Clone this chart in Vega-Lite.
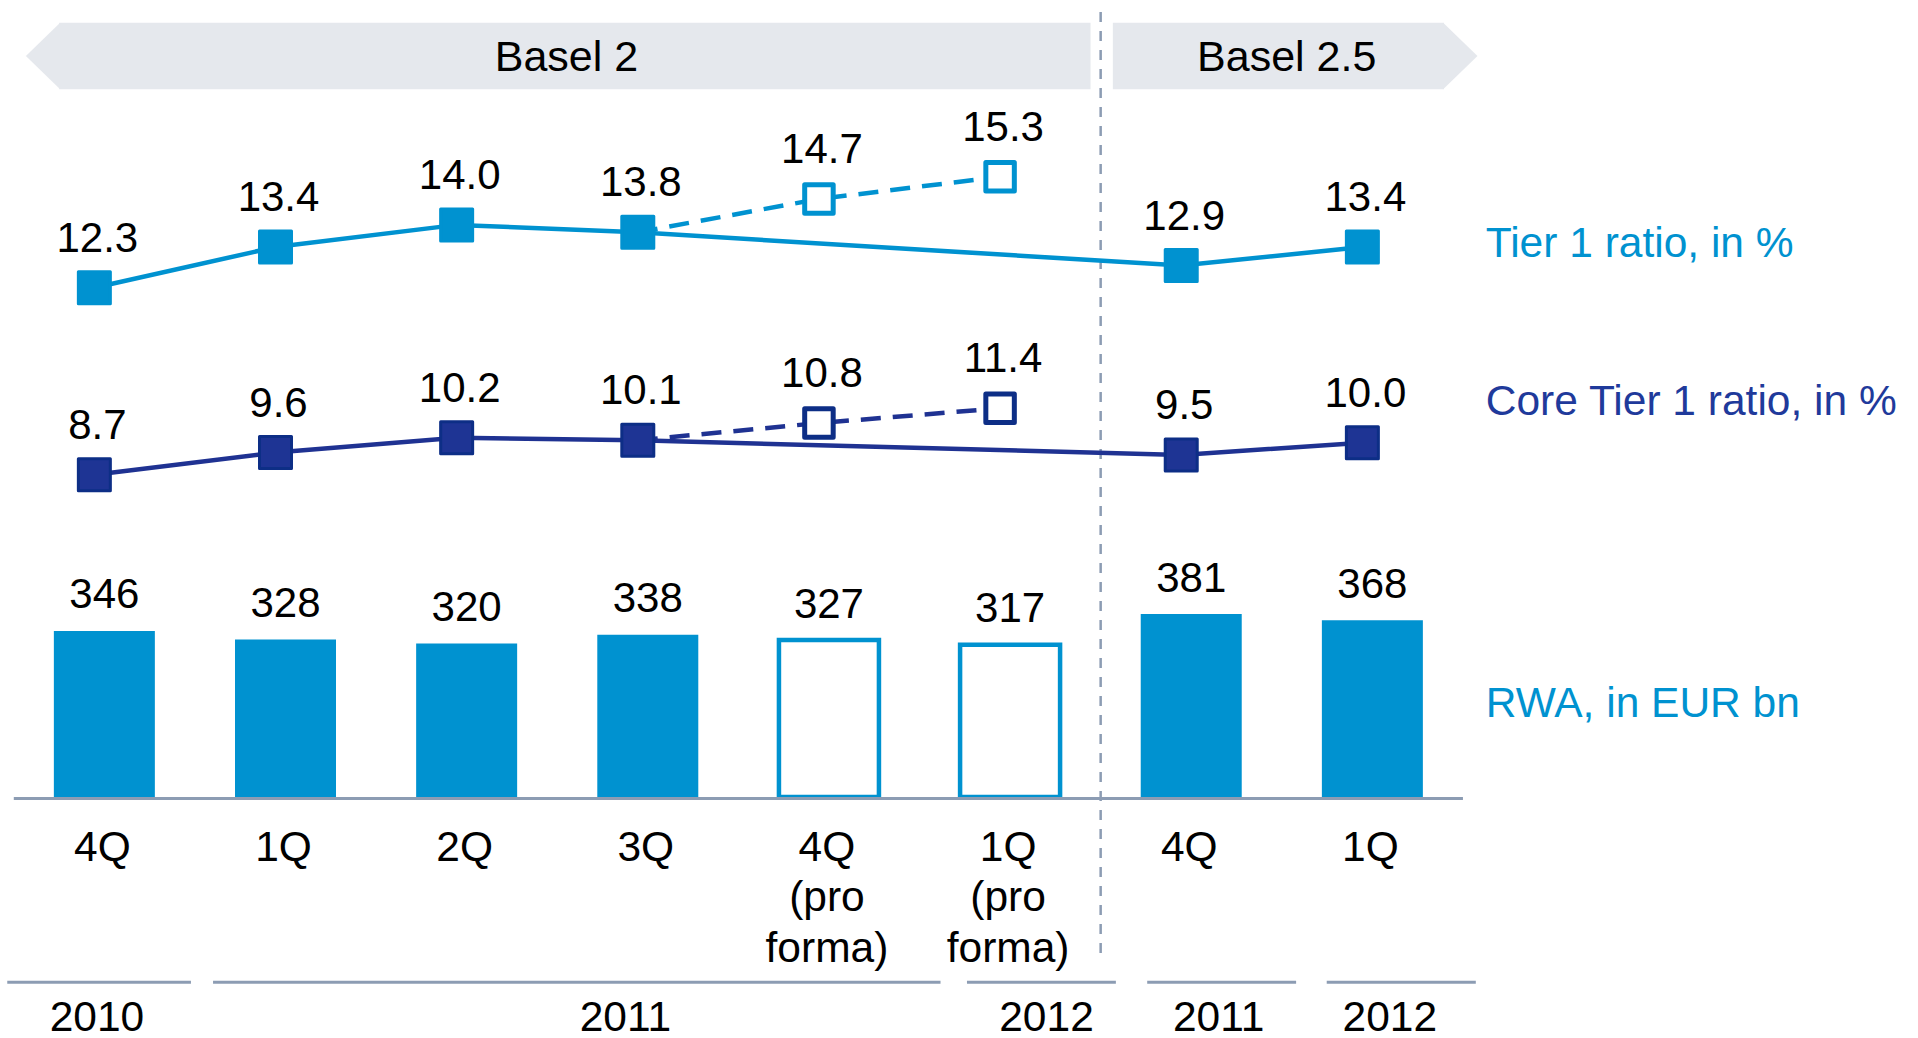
{
  "$schema": "https://vega.github.io/schema/vega-lite/v6.json",
  "width": 1918,
  "height": 1038,
  "autosize": {"type": "none"},
  "padding": 0,
  "background": "white",
  "config": {"view": {"stroke": null}, "text": {"font": "Liberation Sans", "color": "#000000"}},
  "datasets": {
    "bars": [
      {"idx": 0, "label": "4Q", "rwa": 346, "proforma": false},
      {"idx": 1, "label": "1Q", "rwa": 328, "proforma": false},
      {"idx": 2, "label": "2Q", "rwa": 320, "proforma": false},
      {"idx": 3, "label": "3Q", "rwa": 338, "proforma": false},
      {"idx": 4, "label": "4Q\n(pro\nforma)", "rwa": 327, "proforma": true},
      {"idx": 5, "label": "1Q\n(pro\nforma)", "rwa": 317, "proforma": true},
      {"idx": 6, "label": "4Q", "rwa": 381, "proforma": false},
      {"idx": 7, "label": "1Q", "rwa": 368, "proforma": false}
    ],
    "ratios": [
      {"metric": "Tier 1", "series": "reported", "idx": 0, "value": 12.3},
      {"metric": "Tier 1", "series": "reported", "idx": 1, "value": 13.4},
      {"metric": "Tier 1", "series": "reported", "idx": 2, "value": 14.0},
      {"metric": "Tier 1", "series": "reported", "idx": 3, "value": 13.8},
      {"metric": "Tier 1", "series": "reported", "idx": 6, "value": 12.9},
      {"metric": "Tier 1", "series": "reported", "idx": 7, "value": 13.4},
      {"metric": "Tier 1", "series": "pro forma", "idx": 3, "value": 13.8},
      {"metric": "Tier 1", "series": "pro forma", "idx": 4, "value": 14.7},
      {"metric": "Tier 1", "series": "pro forma", "idx": 5, "value": 15.3},
      {"metric": "Core Tier 1", "series": "reported", "idx": 0, "value": 8.7},
      {"metric": "Core Tier 1", "series": "reported", "idx": 1, "value": 9.6},
      {"metric": "Core Tier 1", "series": "reported", "idx": 2, "value": 10.2},
      {"metric": "Core Tier 1", "series": "reported", "idx": 3, "value": 10.1},
      {"metric": "Core Tier 1", "series": "reported", "idx": 6, "value": 9.5},
      {"metric": "Core Tier 1", "series": "reported", "idx": 7, "value": 10.0},
      {"metric": "Core Tier 1", "series": "pro forma", "idx": 3, "value": 10.1},
      {"metric": "Core Tier 1", "series": "pro forma", "idx": 4, "value": 10.8},
      {"metric": "Core Tier 1", "series": "pro forma", "idx": 5, "value": 11.4}
    ],
    "years": [
      {"year": "2010", "start": -0.536, "end": 0.478, "lab": -0.041},
      {"year": "2011", "start": 0.6, "end": 4.616, "lab": 2.876},
      {"year": "2012", "start": 4.762, "end": 5.584, "lab": 5.201},
      {"year": "2011", "start": 5.757, "end": 6.579, "lab": 6.151},
      {"year": "2012", "start": 6.748, "end": 7.571, "lab": 7.096}
    ],
    "banner": [
      {"name": "Basel 2", "x1": -0.2491, "x2": 5.4441, "tx": 2.551, "lo": 0, "hi": 1, "mid": 0.5},
      {"name": "Basel 2.5", "x1": 5.5673, "x2": 7.3956, "tx": 6.527, "lo": 0, "hi": 1, "mid": 0.5}
    ],
    "tips": [
      {"tip": "left", "x": -0.4331, "lo": 0.5, "hi": 0.5},
      {"tip": "left", "x": -0.2441, "lo": 0, "hi": 1},
      {"tip": "right", "x": 7.3906, "lo": 0, "hi": 1},
      {"tip": "right", "x": 7.5801, "lo": 0.5, "hi": 0.5}
    ],
    "divider": [{"x": 5.5, "top": 1.1907, "bottom": -12.968}]
  },
  "layer": [
    {
      "layer": [
        {
          "data": {"name": "banner"},
          "mark": {"type": "rect", "color": "#E5E8ED"},
          "encoding": {
            "x": {"field": "x1", "type": "quantitative", "scale": {"domain": [-0.5485, 9.9845], "nice": false, "zero": false}, "axis": null},
            "x2": {"field": "x2"},
            "y": {"field": "lo", "type": "quantitative", "scale": {"domain": [-14.245, 1.3408], "nice": false, "zero": false}, "axis": null},
            "y2": {"field": "hi"}
          }
        },
        {
          "data": {"name": "tips"},
          "mark": {"type": "area", "color": "#E5E8ED", "interpolate": "linear"},
          "encoding": {
            "x": {"field": "x", "type": "quantitative", "scale": {"domain": [-0.5485, 9.9845], "nice": false, "zero": false}, "axis": null},
            "y": {"field": "lo", "type": "quantitative", "scale": {"domain": [-14.245, 1.3408], "nice": false, "zero": false}, "axis": null},
            "y2": {"field": "hi"},
            "detail": {"field": "tip"}
          }
        },
        {
          "data": {"name": "banner"},
          "mark": {"type": "text", "fontSize": 43, "align": "center", "baseline": "alphabetic", "dy": 15, "color": "#000000"},
          "encoding": {
            "x": {"field": "tx", "type": "quantitative", "scale": {"domain": [-0.5485, 9.9845], "nice": false, "zero": false}, "axis": null},
            "y": {"field": "mid", "type": "quantitative", "scale": {"domain": [-14.245, 1.3408], "nice": false, "zero": false}, "axis": null},
            "text": {"field": "name"}
          }
        },
        {
          "data": {"name": "divider"},
          "mark": {"type": "rule", "color": "#8C9CB3", "strokeWidth": 2.5, "strokeDash": [10, 9]},
          "encoding": {
            "x": {"field": "x", "type": "quantitative", "scale": {"domain": [-0.5485, 9.9845], "nice": false, "zero": false}, "axis": null},
            "y": {"field": "bottom", "type": "quantitative", "scale": {"domain": [-14.245, 1.3408], "nice": false, "zero": false}, "axis": null},
            "y2": {"field": "top"}
          }
        }
      ]
    },
    {
      "layer": [
        {
          "data": {"name": "bars"},
          "transform": [{"filter": "!datum.proforma"}],
          "mark": {"type": "bar", "width": 101, "color": "#0092D0"},
          "encoding": {
            "x": {"field": "idx", "type": "quantitative", "scale": {"domain": [-0.5485, 9.9845], "nice": false, "zero": false}, "axis": null},
            "y": {"field": "rwa", "type": "quantitative", "scale": {"domain": [-502.08, 1660.42], "nice": false, "zero": false}, "axis": null},
            "y2": {"datum": 0}
          }
        },
        {
          "data": {"name": "bars"},
          "transform": [{"filter": "datum.proforma"}],
          "mark": {"type": "bar", "width": 100, "fill": "#ffffff", "stroke": "#0092D0", "strokeWidth": 4.5},
          "encoding": {
            "x": {"field": "idx", "type": "quantitative", "scale": {"domain": [-0.5485, 9.9845], "nice": false, "zero": false}, "axis": null},
            "y": {"field": "rwa", "type": "quantitative", "scale": {"domain": [-502.08, 1660.42], "nice": false, "zero": false}, "axis": null},
            "y2": {"datum": 0}
          }
        },
        {
          "data": {"name": "bars"},
          "mark": {"type": "text", "fontSize": 42, "align": "center", "baseline": "alphabetic", "dy": -22.5},
          "encoding": {
            "x": {"field": "idx", "type": "quantitative", "scale": {"domain": [-0.5485, 9.9845], "nice": false, "zero": false}, "axis": null},
            "y": {"field": "rwa", "type": "quantitative", "scale": {"domain": [-502.08, 1660.42], "nice": false, "zero": false}, "axis": null},
            "text": {"field": "rwa", "type": "quantitative", "format": "d"}
          }
        },
        {
          "data": {"values": [{"from": -0.5, "to": 7.5, "base": 0}]},
          "mark": {"type": "rule", "color": "#8C9CB3", "strokeWidth": 3, "yOffset": 1.5},
          "encoding": {
            "x": {"field": "from", "type": "quantitative", "scale": {"domain": [-0.5485, 9.9845], "nice": false, "zero": false}, "axis": null},
            "x2": {"field": "to"},
            "y": {"field": "base", "type": "quantitative", "scale": {"domain": [-502.08, 1660.42], "nice": false, "zero": false}, "axis": null}
          }
        },
        {
          "data": {"name": "bars"},
          "mark": {"type": "text", "fontSize": 42.5, "align": "center", "baseline": "alphabetic", "dy": 63.7, "dx": -2, "lineBreak": "\n", "lineHeight": 50.5},
          "encoding": {
            "x": {"field": "idx", "type": "quantitative", "scale": {"domain": [-0.5485, 9.9845], "nice": false, "zero": false}, "axis": null},
            "y": {"datum": 0, "type": "quantitative", "scale": {"domain": [-502.08, 1660.42], "nice": false, "zero": false}, "axis": null},
            "text": {"field": "label"}
          }
        },
        {
          "data": {"name": "years"},
          "mark": {"type": "rule", "color": "#8C9CB3", "strokeWidth": 3, "yOffset": 185.3},
          "encoding": {
            "x": {"field": "start", "type": "quantitative", "scale": {"domain": [-0.5485, 9.9845], "nice": false, "zero": false}, "axis": null},
            "x2": {"field": "end"},
            "y": {"datum": 0, "type": "quantitative", "scale": {"domain": [-502.08, 1660.42], "nice": false, "zero": false}, "axis": null}
          }
        },
        {
          "data": {"name": "years"},
          "mark": {"type": "text", "fontSize": 42.5, "align": "center", "baseline": "alphabetic", "dy": 233.5},
          "encoding": {
            "x": {"field": "lab", "type": "quantitative", "scale": {"domain": [-0.5485, 9.9845], "nice": false, "zero": false}, "axis": null},
            "y": {"datum": 0, "type": "quantitative", "scale": {"domain": [-502.08, 1660.42], "nice": false, "zero": false}, "axis": null},
            "text": {"field": "year"}
          }
        },
        {
          "data": {"values": [{"label": "RWA, in EUR bn", "pos": 7.626, "val": 166}]},
          "mark": {"type": "text", "fontSize": 42.5, "align": "left", "baseline": "alphabetic", "color": "#0092D0"},
          "encoding": {
            "x": {"field": "pos", "type": "quantitative", "scale": {"domain": [-0.5485, 9.9845], "nice": false, "zero": false}, "axis": null},
            "y": {"field": "val", "type": "quantitative", "scale": {"domain": [-502.08, 1660.42], "nice": false, "zero": false}, "axis": null},
            "text": {"field": "label"}
          }
        }
      ]
    },
    {
      "layer": [
        {
          "data": {"name": "ratios"},
          "transform": [{"filter": "datum.metric == 'Tier 1' && datum.series == 'reported'"}],
          "mark": {"type": "line", "color": "#0092D0", "strokeWidth": 4.5, "xOffset": -10},
          "encoding": {
            "x": {"field": "idx", "type": "quantitative", "scale": {"domain": [-0.5485, 9.9845], "nice": false, "zero": false}, "axis": null},
            "y": {"field": "value", "type": "quantitative", "scale": {"domain": [-7.976, 20.078], "nice": false, "zero": false}, "axis": null}
          }
        },
        {
          "data": {"name": "ratios"},
          "transform": [{"filter": "datum.metric == 'Tier 1' && datum.series == 'pro forma'"}],
          "mark": {"type": "line", "color": "#0092D0", "strokeWidth": 4.5, "strokeDash": [20, 12], "xOffset": -10},
          "encoding": {
            "x": {"field": "idx", "type": "quantitative", "scale": {"domain": [-0.5485, 9.9845], "nice": false, "zero": false}, "axis": null},
            "y": {"field": "value", "type": "quantitative", "scale": {"domain": [-7.976, 20.078], "nice": false, "zero": false}, "axis": null}
          }
        },
        {
          "data": {"name": "ratios"},
          "transform": [{"filter": "datum.metric == 'Tier 1' && datum.series == 'reported'"}],
          "mark": {"type": "point", "shape": "square", "size": 1024, "filled": true, "fill": "#0092D0", "stroke": "#0092D0", "strokeWidth": 3, "strokeJoin": "round", "opacity": 1, "xOffset": -10},
          "encoding": {
            "x": {"field": "idx", "type": "quantitative", "scale": {"domain": [-0.5485, 9.9845], "nice": false, "zero": false}, "axis": null},
            "y": {"field": "value", "type": "quantitative", "scale": {"domain": [-7.976, 20.078], "nice": false, "zero": false}, "axis": null}
          }
        },
        {
          "data": {"name": "ratios"},
          "transform": [{"filter": "datum.metric == 'Tier 1' && datum.series == 'pro forma' && datum.idx > 3"}],
          "mark": {"type": "point", "shape": "square", "size": 812, "filled": true, "fill": "#ffffff", "stroke": "#0092D0", "strokeWidth": 5, "strokeJoin": "round", "opacity": 1, "xOffset": -10},
          "encoding": {
            "x": {"field": "idx", "type": "quantitative", "scale": {"domain": [-0.5485, 9.9845], "nice": false, "zero": false}, "axis": null},
            "y": {"field": "value", "type": "quantitative", "scale": {"domain": [-7.976, 20.078], "nice": false, "zero": false}, "axis": null}
          }
        },
        {
          "data": {"name": "ratios"},
          "transform": [{"filter": "datum.metric == 'Tier 1' && !(datum.series == 'pro forma' && datum.idx == 3)"}],
          "mark": {"type": "text", "fontSize": 42, "align": "center", "baseline": "alphabetic", "dy": -36, "dx": -7},
          "encoding": {
            "x": {"field": "idx", "type": "quantitative", "scale": {"domain": [-0.5485, 9.9845], "nice": false, "zero": false}, "axis": null},
            "y": {"field": "value", "type": "quantitative", "scale": {"domain": [-7.976, 20.078], "nice": false, "zero": false}, "axis": null},
            "text": {"field": "value", "type": "quantitative", "format": ".1f"}
          }
        },
        {
          "data": {"values": [{"label": "Tier 1 ratio, in %", "pos": 7.626, "val": 13.132}]},
          "mark": {"type": "text", "fontSize": 42.5, "align": "left", "baseline": "alphabetic", "color": "#0092D0"},
          "encoding": {
            "x": {"field": "pos", "type": "quantitative", "scale": {"domain": [-0.5485, 9.9845], "nice": false, "zero": false}, "axis": null},
            "y": {"field": "val", "type": "quantitative", "scale": {"domain": [-7.976, 20.078], "nice": false, "zero": false}, "axis": null},
            "text": {"field": "label"}
          }
        }
      ]
    },
    {
      "layer": [
        {
          "data": {"name": "ratios"},
          "transform": [{"filter": "datum.metric == 'Core Tier 1' && datum.series == 'reported'"}],
          "mark": {"type": "line", "color": "#1F3292", "strokeWidth": 4.5, "xOffset": -10},
          "encoding": {
            "x": {"field": "idx", "type": "quantitative", "scale": {"domain": [-0.5485, 9.9845], "nice": false, "zero": false}, "axis": null},
            "y": {"field": "value", "type": "quantitative", "scale": {"domain": [-14.198, 27.997], "nice": false, "zero": false}, "axis": null}
          }
        },
        {
          "data": {"name": "ratios"},
          "transform": [{"filter": "datum.metric == 'Core Tier 1' && datum.series == 'pro forma'"}],
          "mark": {"type": "line", "color": "#1F3292", "strokeWidth": 4.5, "strokeDash": [20, 12], "xOffset": -10},
          "encoding": {
            "x": {"field": "idx", "type": "quantitative", "scale": {"domain": [-0.5485, 9.9845], "nice": false, "zero": false}, "axis": null},
            "y": {"field": "value", "type": "quantitative", "scale": {"domain": [-14.198, 27.997], "nice": false, "zero": false}, "axis": null}
          }
        },
        {
          "data": {"name": "ratios"},
          "transform": [{"filter": "datum.metric == 'Core Tier 1' && datum.series == 'reported'"}],
          "mark": {"type": "point", "shape": "square", "size": 1024, "filled": true, "fill": "#1E3494", "stroke": "#0D2E86", "strokeWidth": 3, "strokeJoin": "round", "opacity": 1, "xOffset": -10},
          "encoding": {
            "x": {"field": "idx", "type": "quantitative", "scale": {"domain": [-0.5485, 9.9845], "nice": false, "zero": false}, "axis": null},
            "y": {"field": "value", "type": "quantitative", "scale": {"domain": [-14.198, 27.997], "nice": false, "zero": false}, "axis": null}
          }
        },
        {
          "data": {"name": "ratios"},
          "transform": [{"filter": "datum.metric == 'Core Tier 1' && datum.series == 'pro forma' && datum.idx > 3"}],
          "mark": {"type": "point", "shape": "square", "size": 812, "filled": true, "fill": "#ffffff", "stroke": "#0D2E86", "strokeWidth": 5, "strokeJoin": "round", "opacity": 1, "xOffset": -10},
          "encoding": {
            "x": {"field": "idx", "type": "quantitative", "scale": {"domain": [-0.5485, 9.9845], "nice": false, "zero": false}, "axis": null},
            "y": {"field": "value", "type": "quantitative", "scale": {"domain": [-14.198, 27.997], "nice": false, "zero": false}, "axis": null}
          }
        },
        {
          "data": {"name": "ratios"},
          "transform": [{"filter": "datum.metric == 'Core Tier 1' && !(datum.series == 'pro forma' && datum.idx == 3)"}],
          "mark": {"type": "text", "fontSize": 42, "align": "center", "baseline": "alphabetic", "dy": -36, "dx": -7},
          "encoding": {
            "x": {"field": "idx", "type": "quantitative", "scale": {"domain": [-0.5485, 9.9845], "nice": false, "zero": false}, "axis": null},
            "y": {"field": "value", "type": "quantitative", "scale": {"domain": [-14.198, 27.997], "nice": false, "zero": false}, "axis": null},
            "text": {"field": "value", "type": "quantitative", "format": ".1f"}
          }
        },
        {
          "data": {"values": [{"label": "Core Tier 1 ratio, in %", "pos": 7.626, "val": 11.127}]},
          "mark": {"type": "text", "fontSize": 42.5, "align": "left", "baseline": "alphabetic", "color": "#1F3A9B"},
          "encoding": {
            "x": {"field": "pos", "type": "quantitative", "scale": {"domain": [-0.5485, 9.9845], "nice": false, "zero": false}, "axis": null},
            "y": {"field": "val", "type": "quantitative", "scale": {"domain": [-14.198, 27.997], "nice": false, "zero": false}, "axis": null},
            "text": {"field": "label"}
          }
        }
      ]
    }
  ],
  "resolve": {"scale": {"y": "independent"}}
}
